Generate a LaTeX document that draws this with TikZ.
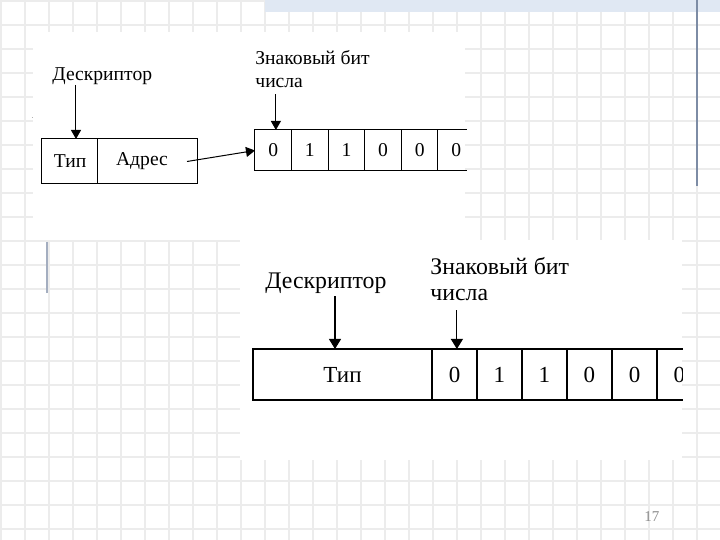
\documentclass[tikz,border=0pt]{standalone}
\usepackage{fontspec}
\setmainfont{Liberation Serif}
\newfontfamily\tnr{Liberation Serif}
\usetikzlibrary{arrows.meta}
\definecolor{gridc}{RGB}{236,236,236}
\definecolor{bandc}{RGB}{224,232,243}
\definecolor{vlinec}{RGB}{125,140,165}
\definecolor{pagec}{RGB}{140,140,140}
\begin{document}
\begin{tikzpicture}[x=0.5pt,y=-0.5pt,
  lblA/.style={font=\tnr\fontsize{9.8}{11.5}\selectfont, inner sep=0pt, align=left},
  lblB/.style={font=\tnr\fontsize{11.9}{13}\selectfont, inner sep=0pt, align=left},
  cellA/.style={draw, line width=0.5pt, inner sep=0pt, outer sep=0pt, minimum width=18.3pt, minimum height=20.5pt, font=\tnr\fontsize{9.8}{11}\selectfont},
  cellB/.style={draw, line width=0.75pt, inner sep=0pt, outer sep=0pt, minimum width=22.5pt, minimum height=25.5pt, font=\tnr\fontsize{11.5}{13}\selectfont},
  arrA/.style={-{Triangle[width=5pt,length=4.5pt]}, line width=0.5pt},
  arrB/.style={-{Triangle[width=6pt,length=5pt]}, line width=0.6pt}]
\useasboundingbox (0,0) rectangle (720,540);
\fill[white] (0,0) rectangle (720,540);
% background grid
\foreach \i in {0,...,29} \draw[gridc, line width=0.6pt] ({1+24*\i},0) -- ({1+24*\i},540);
\foreach \j in {0,...,22} \draw[gridc, line width=0.6pt] (0,{1+24*\j}) -- (720,{1+24*\j});
% top band and decorative lines
\fill[bandc] (265,0) rectangle (720,12);
\draw[vlinec, line width=0.8pt] (697,0) -- (697,186);
\draw[vlinec!70, line width=0.6pt] (47,242) -- (47,293);
\draw[gray!60, line width=0.5pt] (32,118) -- (36,118);
% white picture areas
\fill[white] (33,32) rectangle (465,240);
\fill[white] (240,240) rectangle (682,460);

% ---------- top diagram ----------
\node[lblA, anchor=north west] (d1) at (52,67) {Дескриптор};
\node[lblA, anchor=north west] (s1) at (255,50) {Знаковый бит\\числа};
\node[cellA, minimum width=28pt, minimum height=22.5pt] (tip) at (70,161.5) {\raisebox{-1.5pt}{Тип}};
\node[cellA, minimum width=50pt, minimum height=22.5pt] (adr) at (148,161.5) {\hspace*{-6pt}\raisebox{-1.5pt}{Адрес}};
\foreach \k/\v in {0/0,1/1,2/1,3/0,4/0}
  \node[cellA] (t\k) at ({273.3+36.6*\k},150.5) {\v};
\node[cellA, draw=none] (t5) at (456.3,150.5) {0};
\draw[line width=0.5pt] (t4.north east) -- ++(29,0);
\draw[line width=0.5pt] (t4.south east) -- ++(29,0);
\coordinate (ta) at ([xshift=3pt]tip.north);
\draw[arrA] (ta |- d1.south) -- (ta);
\coordinate (ts) at ([xshift=1.3pt]t0.north);
\draw[arrA, shorten <=3pt] (ts |- s1.south) -- (ts);
\draw[arrA] ([xshift=-5.5pt]adr.east) -- (t0.west);

% ---------- bottom diagram ----------
\node[lblB, anchor=north west] (d2) at (265,273) {Дескриптор};
\node[lblB, anchor=north west] (s2) at (430,257) {Знаковый бит\\числа};
\begin{scope}
\clip (240,240) rectangle (683,460);
\node[cellB, minimum width=89.5pt] (tip2) at (342.5,374.5) {Тип};
\foreach \k/\v in {0/0,1/1,2/1,3/0,4/0}
  \node[cellB] (b\k) at ({454.5+45*\k},374.5) {\v};
\node[cellB, draw=none] (b5) at (679.5,374.5) {0};
\draw[line width=0.75pt] (b4.north east) -- ++(30,0);
\draw[line width=0.75pt] (b4.south east) -- ++(30,0);
\end{scope}
\coordinate (tb) at ([xshift=-3.75pt]tip2.north);
\draw[arrB, shorten <=1pt] (tb |- d2.south) -- (tb);
\coordinate (sb) at ([xshift=1.2pt]b0.north);
\draw[arrB, shorten <=4.5pt] (sb |- s2.south) -- (sb);

% page number
\node[font=\tnr\fontsize{7.5}{9}\selectfont, text=pagec, inner sep=0pt] (pg) at (652,517) {17};
\end{tikzpicture}
\end{document}
